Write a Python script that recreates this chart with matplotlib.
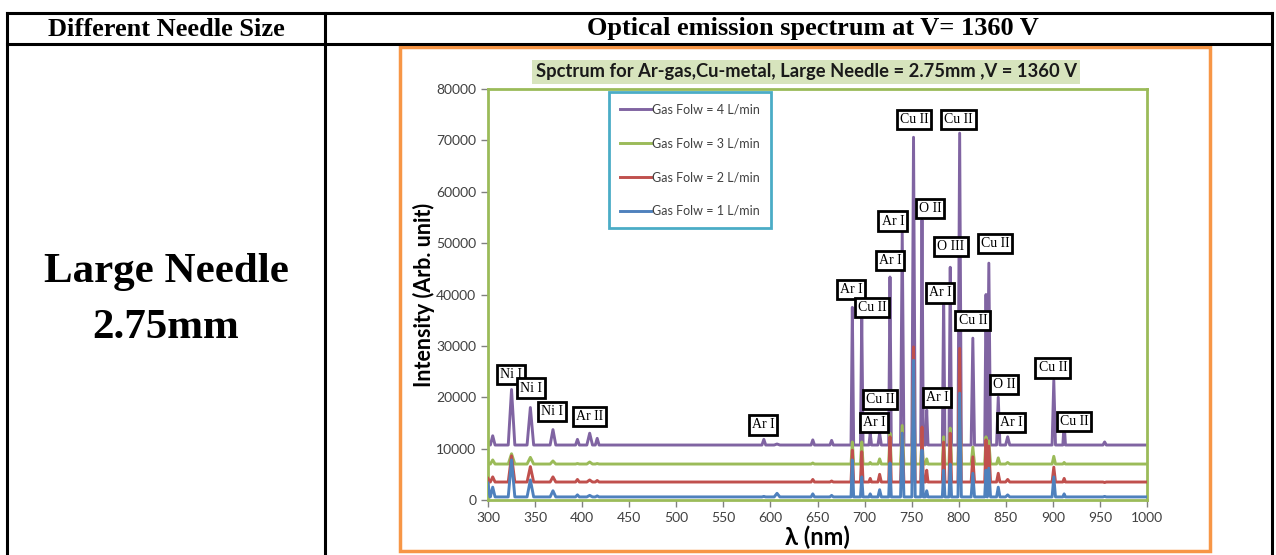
import matplotlib
matplotlib.use("Agg")
import matplotlib.pyplot as plt
from matplotlib.patches import Rectangle
from matplotlib.lines import Line2D

# peak positions (nm) shared by all four spectra
peak_nm = [305, 325, 345, 369, 395, 408, 416, 593, 607, 645, 665, 687, 697, 706, 716,
           727, 740, 752, 761, 766, 784, 791, 801, 815, 829, 832, 842, 852, 901, 912, 955]
peak_width = [2.5, 3.5, 3.5, 3, 2, 3, 2, 2, 3, 1.8, 1.8, 1.4, 1.4, 1.4, 1.8,
              1.4, 1.8, 1.8, 1.4, 1.4, 1.4, 1.4, 1.8, 1.8, 1.4, 1.8, 1.8, 2.2, 1.8, 1.4, 1.8]

# peak heights, one list per gas flow
flow4 = [12500, 21500, 18000, 13700, 11800, 13000, 12000, 11800, 10900, 11700, 11600,
         37500, 36000, 13000, 13000, 43400, 52000, 70600, 54500, 17500, 40000, 45300,
         71400, 31500, 40000, 46100, 20000, 12300, 23300, 15000, 11300]
flow3 = [7800, 9000, 8300, 7600, 7100, 7400, 7100, 7000, 7000, 7200, 7000,
         11300, 11300, 7300, 8000, 13000, 14500, 24000, 12000, 8000, 12300, 14000,
         20000, 10300, 12300, 11500, 8200, 7300, 8500, 7300, 7000]
flow2 = [4500, 8600, 6500, 4500, 4000, 3900, 3800, 3500, 3500, 4000, 3700,
         9700, 9400, 4200, 5000, 12300, 13000, 29800, 14200, 5800, 11300, 13000,
         29500, 8400, 11700, 10500, 5200, 4000, 6400, 4200, 3400]
flow1 = [2500, 7800, 3900, 1800, 1000, 900, 800, 700, 1300, 1200, 900,
         7800, 4500, 1200, 2000, 7200, 13000, 27200, 9700, 1800, 5800, 7000,
         20800, 5200, 5800, 6200, 2500, 1000, 4500, 1200, 700]

base_levels = [10700, 7000, 3500, 600]
start_levels = [11500, 7300, 4200, 3300]
series_labels = ["Gas Folw = 4 L/min", "Gas Folw = 3 L/min", "Gas Folw = 2 L/min", "Gas Folw = 1 L/min"]
series_colors = ["#8064A2", "#9BBB59", "#C0504D", "#4F81BD"]

# line annotations: text, wavelength, intensity
ann_text = ["Ni I", "Ni I", "Ni I", "Ar II", "Ar I", "Ar I", "Cu II", "Cu II", "Cu II",
            "Ar I", "O II", "Ar I", "O III", "Cu II", "Ar I", "Cu II", "Cu II", "Ar I",
            "Ar I", "O II", "Ar I", "Cu II", "Cu II"]
ann_x = [324.4, 345.7, 368, 408, 592, 685.6, 708, 752.5, 800,
         730, 769.5, 727, 791.8, 838.6, 780, 815, 716.4, 710,
         777, 848, 855.5, 900, 922.5]
ann_y = [24500, 21800, 17300, 16300, 14600, 41000, 37500, 74100, 74100,
         54300, 56800, 46700, 49400, 50000, 40300, 35000, 19600, 15000,
         20000, 22400, 15000, 25700, 15200]


def build_trace(heights, base, start):
    xs = [300, 302]
    ys = [start, base]
    for c, w, h in zip(peak_nm, peak_width, heights):
        xs += [c - w, c, c + w]
        ys += [base, h, base]
    xs.append(1000)
    ys.append(base)
    return xs, ys


fig = plt.figure(figsize=(12.76, 5.55), dpi=100)

# table background in pixel coordinates
bg = fig.add_axes([0, 0, 1, 1])
bg.set_xlim(0, 1276)
bg.set_ylim(555, 0)
bg.axis("off")
for y in [13, 44]:
    bg.plot([7, 1272], [y, y], color="black", lw=2.2)
for x in [7, 325, 1272]:
    bg.plot([x, x], [13, 555], color="black", lw=2.2)
serif = "Liberation Serif"
bg.text(166, 29, "Different Needle Size", ha="center", va="center",
        fontsize=19, fontweight="bold", family=serif)
bg.text(813, 29, "Optical emission spectrum at V= 1360 V", ha="center", va="center",
        fontsize=19, fontweight="bold", family=serif)
bg.text(166, 272, "Large Needle", ha="center", va="center",
        fontsize=31, fontweight="bold", family=serif)
bg.text(166, 328, "2.75mm", ha="center", va="center",
        fontsize=31, fontweight="bold", family=serif)
bg.add_patch(Rectangle((400, 47), 810, 504, fill=False, ec="#F79646", lw=2.5))
bg.text(806, 72, "Spctrum for Ar-gas,Cu-metal, Large Needle = 2.75mm ,V = 1360 V",
        ha="center", va="center", fontsize=13.2, fontweight="bold", family="Lato",
        color="#1a1a1a",
        bbox=dict(boxstyle="square,pad=0.2", fc="#D7E4BD", ec="none"))

# spectrum chart
ax = fig.add_axes([488 / 1276, 55 / 555, 659 / 1276, 411 / 555])
handles = []
for k, heights in enumerate([flow4, flow3, flow2, flow1]):
    xs, ys = build_trace(heights, base_levels[k], start_levels[k])
    ax.plot(xs, ys, color=series_colors[k], lw=2.1, zorder=2 + k, solid_joinstyle="round")
    handles.append(Line2D([], [], color=series_colors[k], lw=2.1))

ax.set_xlim(300, 1000)
ax.set_ylim(0, 80000)
ax.set_xticks(range(300, 1001, 50))
ax.set_yticks(range(0, 80001, 10000))
for s in ax.spines.values():
    s.set_color("#9BBB59")
    s.set_linewidth(2)
ax.tick_params(colors="#808080", labelcolor="#404040", labelsize=10, length=5, width=1)
for t in ax.get_xticklabels() + ax.get_yticklabels():
    t.set_family("Lato")
ax.set_ylabel("Intensity (Arb. unit)", fontsize=15.5, fontweight="bold", family="Lato",
              labelpad=1)
ax.set_xlabel("λ (nm)", fontsize=17, fontweight="bold", family="Lato", labelpad=1)

for txt, x, y in zip(ann_text, ann_x, ann_y):
    ax.text(x, y, txt, ha="center", va="center", fontsize=10, family=serif, zorder=10,
            bbox=dict(boxstyle="square,pad=0.22", fc="white", ec="black", lw=2))

leg = ax.legend(handles, series_labels, loc="upper left", bbox_to_anchor=(0.1836, 0.9927),
                prop={"family": "Lato", "size": 9}, labelspacing=1.75,
                handlelength=2.5, handletextpad=0.05, borderpad=0.9, borderaxespad=0,
                fancybox=False, framealpha=1)
leg.get_frame().set_edgecolor("#4BACC6")
leg.get_frame().set_linewidth(2)
for t in leg.get_texts():
    t.set_color("#404040")
leg.set_zorder(20)

fig.savefig("out.png", dpi=100)
